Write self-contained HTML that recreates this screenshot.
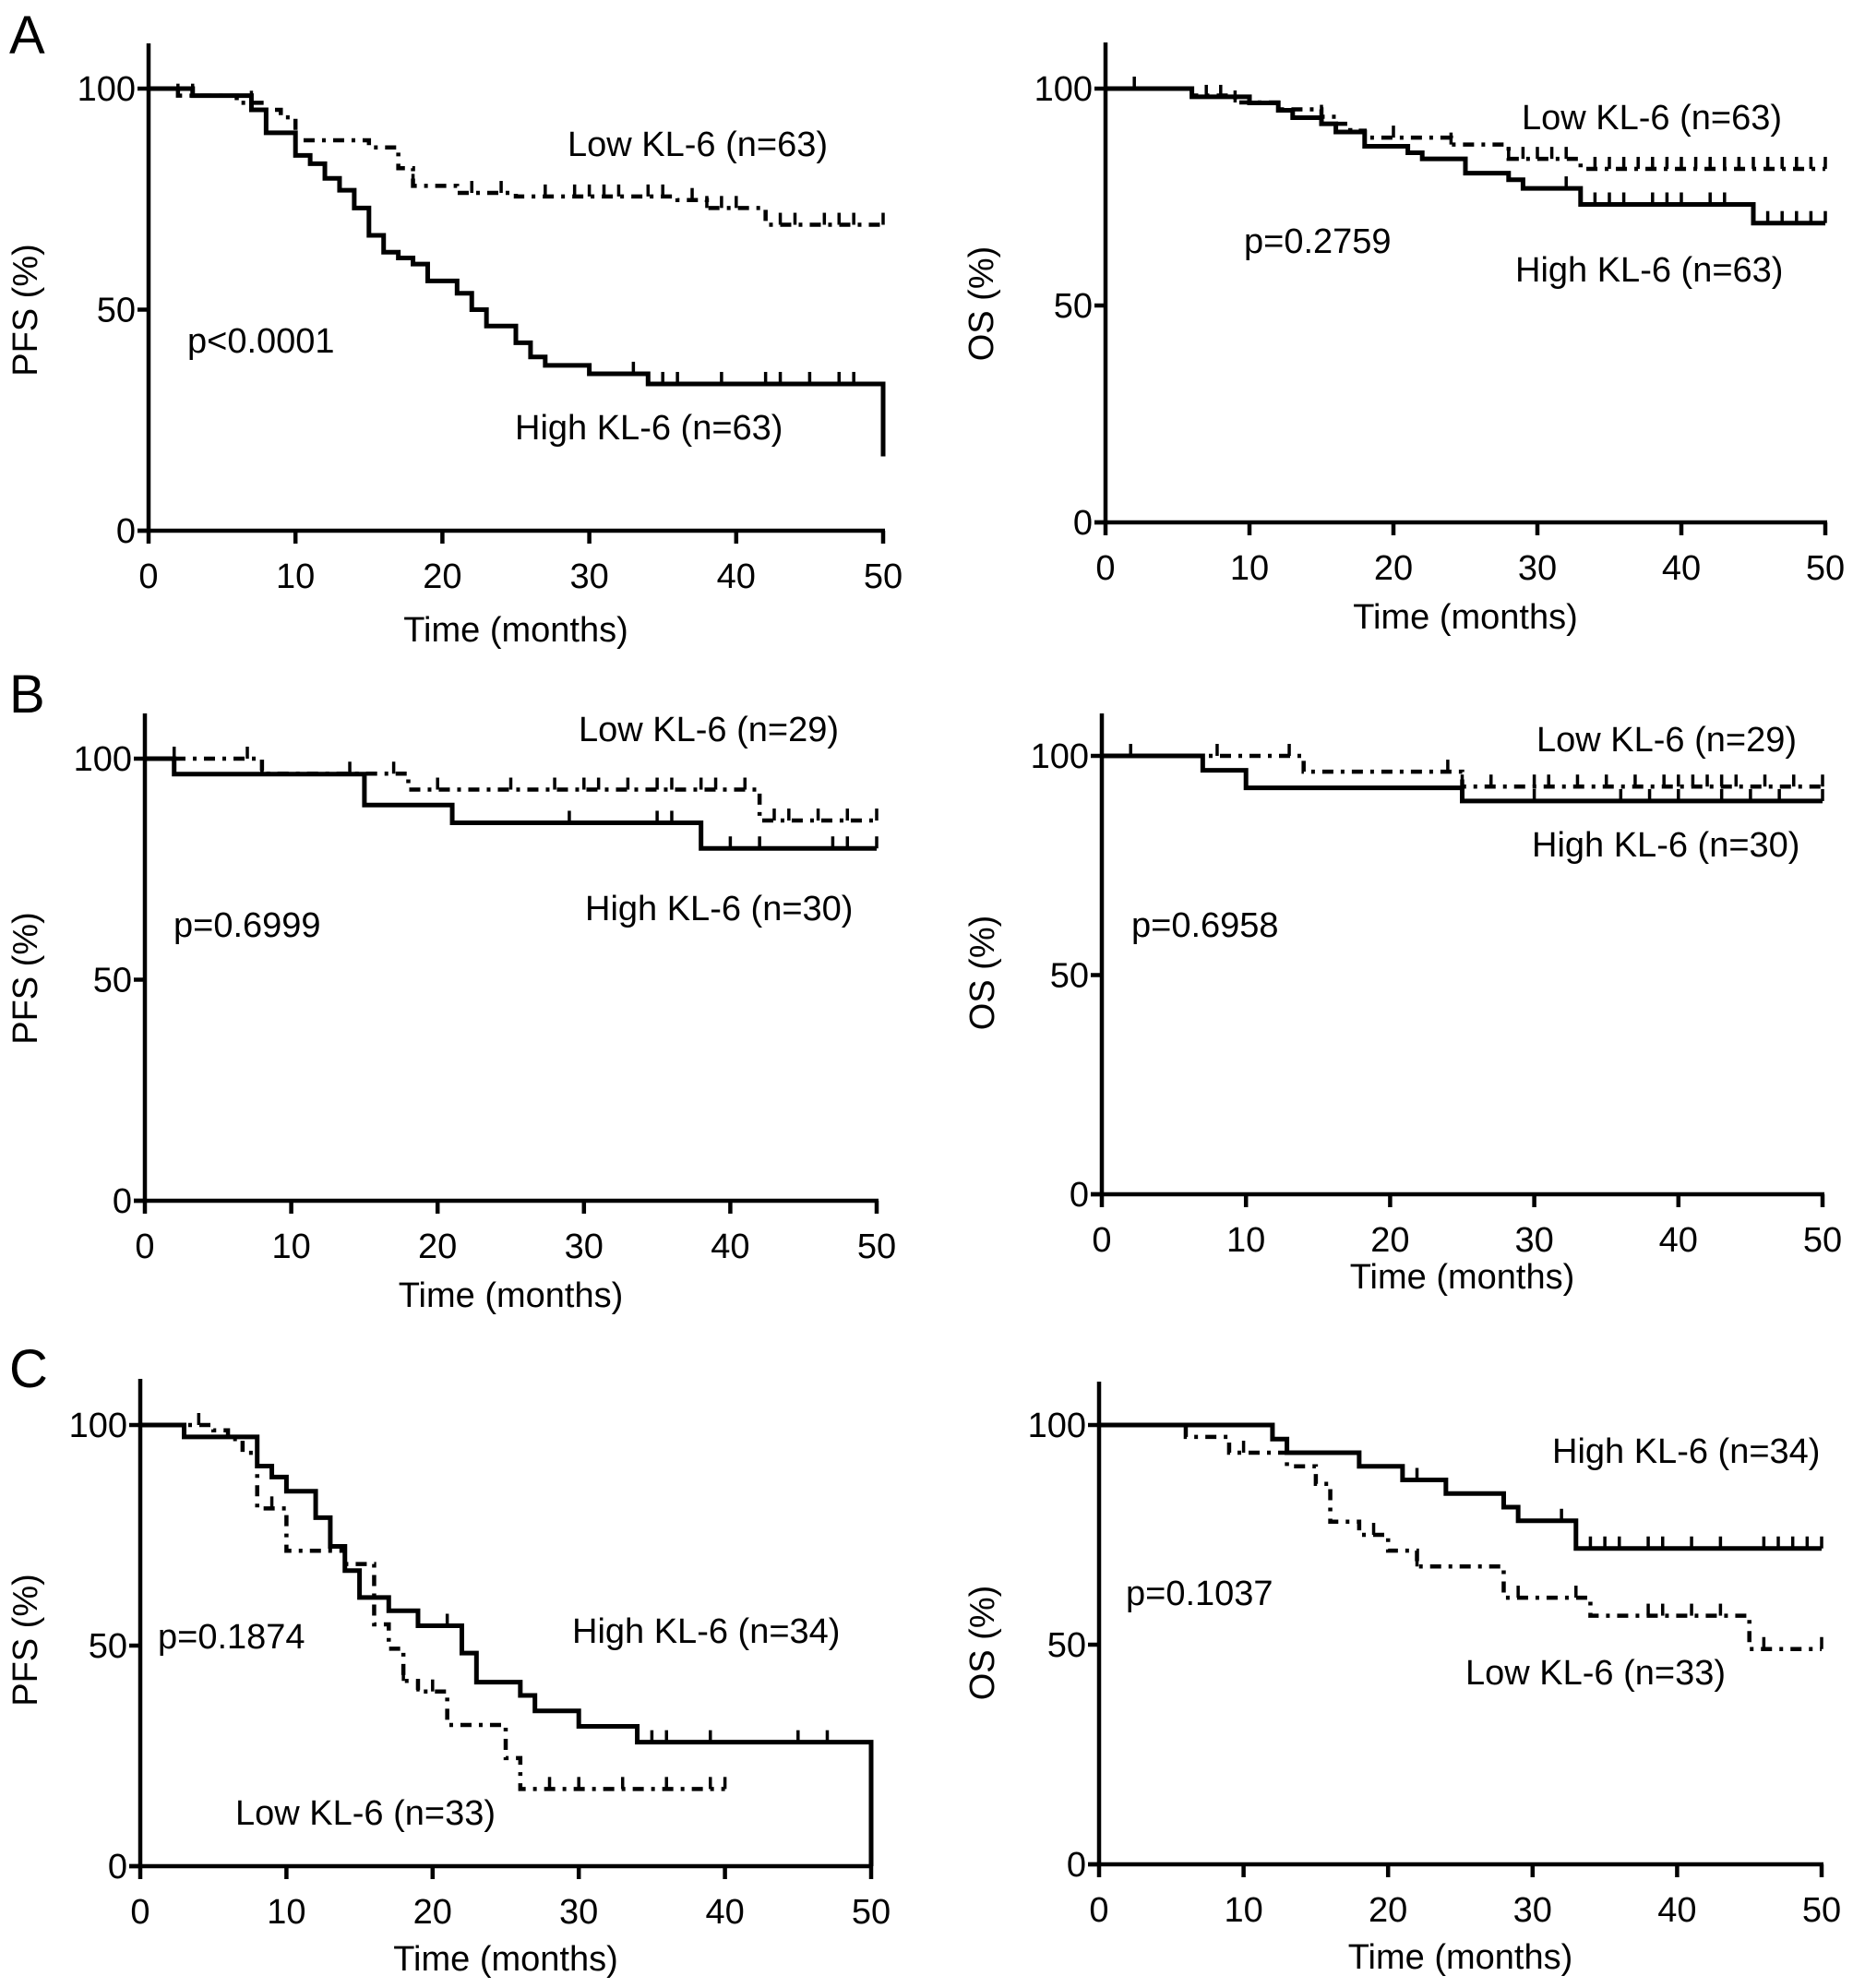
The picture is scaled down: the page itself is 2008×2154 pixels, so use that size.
<!DOCTYPE html>
<html><head><meta charset="utf-8"><style>
html,body{margin:0;padding:0;background:#fff}
svg{display:block}
text{font-family:"Liberation Sans",Arial,sans-serif;fill:#000}
</style></head><body>
<svg id="fig" width="2008" height="2154" viewBox="0 0 2008 2154" xmlns="http://www.w3.org/2000/svg">
<rect width="2008" height="2154" fill="#fff"/>
<text x="10" y="58" font-size="58">A</text>
<text x="10" y="772" font-size="58">B</text>
<text x="10" y="1503" font-size="58">C</text>
</svg>
<script>
// ---- data (months, survival %) ----
const xTicks = [0,10,20,30,40,50];
const yTicks = [0,50,100];

const aPfsHighT = [0,3,7,8,10,11,12,13,14,15,16,17,18,19,21,22,23,25,26,27,30,34,50];
const aPfsHighS = [100,98.4,95.2,90,84.9,83,79.7,77,73,66.8,63,61.7,60.3,56.5,53.7,50,46.3,42.5,39.3,37.4,35.5,33.2,16.8];
const aPfsHighC = [33,35,36,39,42,43,45,47,48];
const aPfsLowT = [0,2,6,8,9,10,15,17,18,21,25,36,38,42];
const aPfsLowS = [100,98.4,96.8,95.2,93.5,88.3,86.7,82,78,76.4,75.6,74.8,73,69.2];
const aPfsLowC = [2,3,7,18,22,24,27,29,30,31,32,34,35,37,38,39,40,43,44,46,47,48,50];

const aOsHighT = [0,6,10,12,13,15,16,18,21,22,25,28,29,33,45];
const aOsHighS = [100,98.1,96.7,95,93.3,91.9,90,86.7,85.2,83.8,80.5,79,77,73.3,69];
const aOsHighC = [2,7,8,32,34,35,36,38,39,40,42,43,46,47,48,49,50];
const aOsLowT = [0,6,9,12,15,16,17,18,24,28,33];
const aOsLowS = [100,98.4,96.8,95.2,93.5,91.9,90.3,88.7,87.1,83.8,81.5];
const aOsLowC = [9,15,20,24,28,29,30,31,32,34,35,36,37,38,39,40,41,42,43,44,45,46,47,48,49,50];

const bPfsHighT = [0,2,15,21,38];
const bPfsHighS = [100,96.5,89.5,85.5,79.7];
const bPfsHighC = [8,29,35,36,40,42,47,48,50];
const bPfsLowT = [0,8,18,42];
const bPfsLowS = [100,96.6,93,86];
const bPfsLowC = [2,7,8,14,17,20,25,28,30,31,33,35,36,38,39,41,43,44,46,48,50];

const bOsHighT = [0,7,10,25];
const bOsHighS = [100,96.7,92.7,89.7];
const bOsHighC = [2,30,36,38,40,43,45,47,50];
const bOsLowT = [0,14,25];
const bOsLowS = [100,96.4,93];
const bOsLowC = [8,13,24,25,27,30,31,33,35,37,39,40,41,42,43,44,46,48,50];

const cPfsHighT = [0,3,8,9,10,12,13,14,15,17,19,22,23,26,27,30,34,50];
const cPfsHighS = [100,97.3,90.7,88.2,85,79,72.5,67,60.9,57.9,54.5,48.3,41.7,38.7,35.2,31.7,28.1,0];
const cPfsHighC = [21,35,36,39,45,47];
const cPfsLowT = [0,5,6,7,8,10,14,16,17,18,19,21,25,26];
const cPfsLowS = [100,98.8,96.8,93.7,81.1,71.5,68.5,54.8,49.3,42,39.6,32,24.5,17.5];
const cPfsLowC = [4,9,13,18,19,20,28,30,33,36,39,40];

const cOsHighT = [0,12,13,18,21,24,28,29,33];
const cOsHighS = [100,96.8,93.7,90.6,87.5,84.4,81.3,78.2,71.9];
const cOsHighC = [22,32,34,35,36,38,39,41,43,46,47,48,49,50];
const cOsLowT = [0,6,9,13,15,16,18,20,22,28,34,45];
const cOsLowS = [100,97.3,93.7,90.6,86.6,78,75,71.4,67.8,60.7,56.6,49];
const cOsLowC = [6,10,19,22,29,33,38,39,41,43,46,50];

// ---- layout ----
const panels = [
 {id:'a-pfs', x0:161,x1:957,y100:96,y0:575,top:47, yt:'PFS (%)', ytx:30, yty:336, titleOff:120,
  series:[[aPfsLowT,aPfsLowS,aPfsLowC,50,true],[aPfsHighT,aPfsHighS,aPfsHighC,50,false]],
  labels:[['Low KL-6 (n=63)',615,169],['High KL-6 (n=63)',558,476],['p<0.0001',203,382]]},
 {id:'a-os', x0:1198,x1:1978,y100:96,y0:566,top:46, yt:'OS (%)', ytx:1066, yty:329, titleOff:115,
  series:[[aOsLowT,aOsLowS,aOsLowC,50,true],[aOsHighT,aOsHighS,aOsHighC,50,false]],
  labels:[['Low KL-6 (n=63)',1649,140],['High KL-6 (n=63)',1642,305],['p=0.2759',1348,274]]},
 {id:'b-pfs', x0:157,x1:950,y100:822,y0:1301,top:773, yt:'PFS (%)', ytx:30, yty:1060, titleOff:115,
  series:[[bPfsLowT,bPfsLowS,bPfsLowC,50,true],[bPfsHighT,bPfsHighS,bPfsHighC,50,false]],
  labels:[['Low KL-6 (n=29)',627,803],['High KL-6 (n=30)',634,997],['p=0.6999',188,1015]]},
 {id:'b-os', x0:1194,x1:1975,y100:819,y0:1294,top:773, yt:'OS (%)', ytx:1067, yty:1054, titleOff:102,
  series:[[bOsLowT,bOsLowS,bOsLowC,50,true],[bOsHighT,bOsHighS,bOsHighC,50,false]],
  labels:[['Low KL-6 (n=29)',1665,814],['High KL-6 (n=30)',1660,928],['p=0.6958',1226,1015]]},
 {id:'c-pfs', x0:152,x1:944,y100:1544,y0:2022,top:1494, yt:'PFS (%)', ytx:30, yty:1777, titleOff:113,
  series:[[cPfsLowT,cPfsLowS,cPfsLowC,40,true],[cPfsHighT,cPfsHighS,cPfsHighC,50,false]],
  labels:[['High KL-6 (n=34)',620,1780],['Low KL-6 (n=33)',255,1977],['p=0.1874',171,1786]]},
 {id:'c-os', x0:1191,x1:1974,y100:1544,y0:2020,top:1497, yt:'OS (%)', ytx:1067, yty:1780, titleOff:113,
  series:[[cOsLowT,cOsLowS,cOsLowC,50,true],[cOsHighT,cOsHighS,cOsHighC,50,false]],
  labels:[['High KL-6 (n=34)',1682,1585],['Low KL-6 (n=33)',1588,1825],['p=0.1037',1220,1739]]}
];

const NS='http://www.w3.org/2000/svg';
const svg=document.getElementById('fig');
function mk(tag, attrs, parent){
  const e=document.createElementNS(NS,tag);
  for(const k in attrs) e.setAttribute(k,attrs[k]);
  (parent||svg).appendChild(e); return e;
}
panels.forEach(p=>{
  const g=mk('g',{});
  
  
  const X=t=>p.x0+(p.x1-p.x0)*t/50;
  const Y=s=>p.y0-(p.y0-p.y100)*s/100;
  const ya=mk('line',{x1:p.x0,y1:p.top,x2:p.x0,y2:p.y0+2,stroke:'#000','stroke-width':4.5},g);
  
  
  const xa=mk('line',{x1:p.x0-12,y1:p.y0,x2:p.x1+2,y2:p.y0,stroke:'#000','stroke-width':4.5},g);
  
  
  xTicks.forEach(v=>{
    mk('line',{x1:X(v),y1:p.y0,x2:X(v),y2:p.y0+14,stroke:'#000','stroke-width':4.5},g);
    const t=mk('text',{x:X(v),y:p.y0+62,'font-size':38,'text-anchor':'middle'},g);
    t.textContent=v;
    
    
  });
  yTicks.forEach(v=>{
    mk('line',{x1:p.x0-12,y1:Y(v),x2:p.x0,y2:Y(v),stroke:'#000','stroke-width':4.5},g);
    const t=mk('text',{x:p.x0-14,y:Y(v)+13,'font-size':38,'text-anchor':'end'},g);
    t.textContent=v;
    
    
  });
  const xt=mk('text',{x:(p.x0+p.x1)/2,y:p.y0+p.titleOff,'font-size':38,'text-anchor':'middle'},g);
  xt.textContent='Time (months)';
  
  
  const yt=mk('text',{x:p.ytx,y:p.yty,'font-size':38,'text-anchor':'middle',transform:`rotate(-90 ${p.ytx} ${p.yty})`,'dominant-baseline':'middle'},g);
  yt.textContent=p.yt;
  
  
  p.series.forEach(([T,S,C,end,dashed])=>{
    let d=`M${X(T[0])},${Y(S[0])}`;
    for(let i=1;i<T.length;i++){ d+=` H${X(T[i])} V${Y(S[i])}`; }
    d+=` H${X(end)}`;
    const attrs={d:d,fill:'none',stroke:'#000','stroke-width':dashed?4.5:5};
    if(dashed) attrs['stroke-dasharray']='12 8 4 8';
    const path=mk('path',attrs,g);
    
    
    C.forEach(c=>{
      let s=S[0];
      for(let i=0;i<T.length;i++){ if(T[i]<=c) s=S[i]; }
      const m=mk('line',{x1:X(c),y1:Y(s),x2:X(c),y2:Y(s)-13,stroke:'#000','stroke-width':3.5},g);
      
      
    });
  });
  p.labels.forEach(([txt,x,y],i)=>{
    const t=mk('text',{x:x,y:y,'font-size':38},g);
    t.textContent=txt;
    
    
  });
});
</script>
</body></html>
